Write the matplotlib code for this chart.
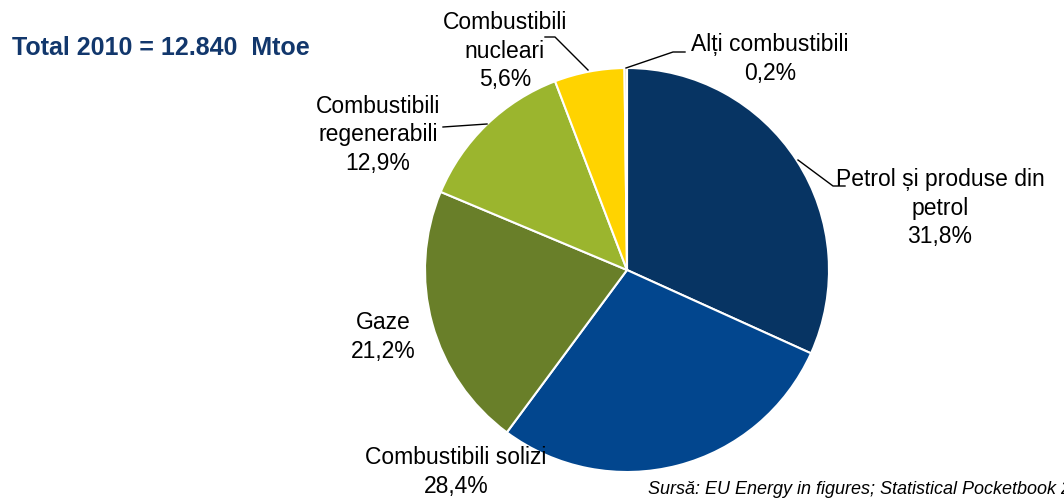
import matplotlib
matplotlib.use("Agg")
from matplotlib import pyplot as plt  # noqa

plt.rcParams['font.family'] = ['Liberation Sans', 'DejaVu Sans']

labels = ['Petrol și produse din\npetrol', 'Combustibili solizi', 'Gaze',
          'Combustibili\nregenerabili', 'Combustibili\nnucleari', 'Alți combustibili']
shares = [31.8, 28.4, 21.2, 12.9, 5.6, 0.2]
colors = ['#073463', '#02468E', '#697F29', '#9BB52E', '#FFD300', '#D8C49A']

W, H = 1064, 499
fig = plt.figure(figsize=(W / 100, H / 100), dpi=100)

# pie: centre (627, 270) px, radius 202 px
cx, cy, r = 627, 270, 202
ax = fig.add_axes([(cx - r) / W, (H - cy - r) / H, 2 * r / W, 2 * r / H])
ax.pie(shares, colors=colors, startangle=90, counterclock=False,
       wedgeprops=dict(edgecolor='white', linewidth=1.5))
ax.set_xlim(-1, 1)
ax.set_ylim(-1, 1)
ax.axis('off')


def px(x, y):
    # pixel position -> pie data coords
    return (x - cx) / r, (cy - y) / r


def label(i, x, y):
    text = labels[i] + '\n' + ('%.1f' % shares[i]).replace('.', ',') + '%'
    ax.text(*px(x, y), text, ha='center', va='center', fontsize=16.5,
            linespacing=1.3, clip_on=False)


def leader(points):
    xs, ys = zip(*[px(x, y) for x, y in points])
    ax.plot(xs, ys, color='black', lw=1, clip_on=False)


label(0, 940, 208)
label(1, 456, 472)
label(2, 383, 337)
label(3, 378, 135)
label(4, 505, 51)
label(5, 770, 59)

leader([(798, 160), (833, 186), (845, 186)])
leader([(487, 124), (443, 127)])
leader([(588, 70), (555, 37), (545, 37)])
leader([(626, 68), (673, 52), (685, 52)])

fig.text(12 / W, 1 - 48 / H, 'Total 2010 = 12.840  Mtoe', fontsize=18,
         fontweight='bold', color='#12376C', va='center', ha='left')
fig.text(648 / W, 1 - 489 / H, 'Sursă: EU Energy in figures; Statistical Pocketbook 2012',
         fontsize=13, style='italic', va='center', ha='left')

fig.savefig('out.png', dpi=100)
